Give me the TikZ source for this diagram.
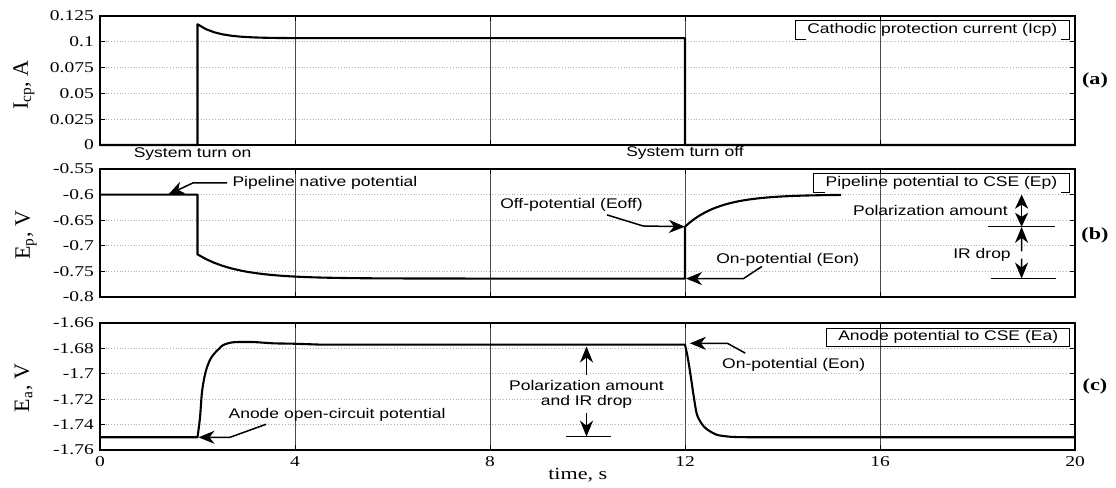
\documentclass[tikz,border=0pt]{standalone}
\usepackage{fontspec}
\setmainfont{Liberation Serif}
\newfontfamily\axisfont[FakeStretch=1.3]{Liberation Serif}
\newfontfamily\notefont[FakeStretch=1.25]{Liberation Sans}
\usetikzlibrary{arrows.meta}
\tikzstyle{axisframe} = [line width=0.8pt]
\tikzstyle{tickmark} = [line width=0.5pt]
\tikzstyle{hgrid} = [gray!60, line width=0.4pt, densely dotted]
\tikzstyle{vgrid} = [black!70, line width=0.45pt]
\tikzstyle{datacurve} = [line width=1.05pt, line join=round]
\tikzstyle{ticklab} = [font=\axisfont\fontsize{7.5}{8}\selectfont, inner sep=0pt]
\tikzstyle{axlab} = [font=\axisfont\fontsize{8.5}{10}\selectfont, inner sep=0pt]
\tikzstyle{ylab} = [font=\fontsize{11}{12}\selectfont, rotate=90, anchor=base, inner sep=0pt]
\tikzstyle{panellab} = [font=\axisfont\bfseries\fontsize{8.5}{10}\selectfont, inner sep=0pt]
\tikzstyle{note} = [font=\notefont\fontsize{7}{7.5}\selectfont, inner sep=0pt, align=center]
\tikzstyle{legendbox} = [note, inner xsep=5.75pt, inner ysep=0pt, minimum height=8.8pt]
\tikzstyle{arrow} = [line width=0.75pt, -{Stealth[length=8pt,width=6.5pt,inset=2.5pt]}]
\tikzstyle{dblarrow} = [line width=0.75pt, {Stealth[length=7pt,width=6.5pt,inset=2pt]}-{Stealth[length=7pt,width=6.5pt,inset=2pt]}]
\tikzstyle{levelbar} = [line width=0.6pt]

\begin{document}
\begin{tikzpicture}
	\useasboundingbox (0,0) rectangle (558pt,244pt);
	% (a)
	\begin{scope}[shift={(50pt,171.5pt)}, x=24.375pt, y=516pt]
		\foreach \v in {0.025,0.05,0.075,0.1} {
			\draw[hgrid] (0,\v) -- (20,\v);
			\draw[tickmark] (0,\v) -- ++(2.5pt,0);
			\draw[tickmark] (20,\v) -- ++(-2.5pt,0);
		}
		\foreach \t in {4,8,12,16} {
			\draw[vgrid] (\t,0) -- (\t,0.125);
			\draw[tickmark] (\t,0) -- ++(0,2.5pt);
			\draw[tickmark] (\t,0.125) -- ++(0,-2.5pt);
		}
		\foreach \v in {0,0.025,0.05,0.075,0.1,0.125}
			\node[ticklab, anchor=east] at ([xshift=-2.9pt]0,\v) {\v};
		\draw[datacurve] (0,0) -- (2,0) -- (2,0.117) -- plot[domain=2:12, samples=60] (\x,{0.1035+0.0135*exp(-(\x-2)/0.4)}) -- (12,0) -- (20,0);
		\draw[axisframe] (0,0) rectangle (20,0.125);
		\node[note] (turn on) at (1.9,-0.0084) {System turn on};
		\node[note] (turn off) at (12,-0.0078) {System turn off};
		\node[legendbox, anchor=north east] (leg cp) at ([yshift=-2.4pt]19.88,0.125) {Cathodic protection current (Icp)};
		\draw[line width=0.5pt] ([xshift=5.5pt]leg cp.south west) -- (leg cp.south west) -- (leg cp.north west) -| (leg cp.south east) -- ([xshift=-4pt]leg cp.south east);
		\node[ylab] (ylab cp) at (-1.48,0.0581) {I\textsubscript{cp}, A};
		\node[panellab] (tag a) at (20.41,0.0625) {(a)};
	\end{scope}
	% (b)
	\begin{scope}[shift={(50pt,300.3pt)}, x=24.375pt, y=256pt]
		\foreach \v in {-0.75,-0.7,-0.65,-0.6} {
			\draw[hgrid] (0,\v) -- (20,\v);
			\draw[tickmark] (0,\v) -- ++(2.5pt,0);
			\draw[tickmark] (20,\v) -- ++(-2.5pt,0);
		}
		\foreach \t in {4,8,12,16} {
			\draw[vgrid] (\t,-0.8) -- (\t,-0.55);
			\draw[tickmark] (\t,-0.8) -- ++(0,2.5pt);
			\draw[tickmark] (\t,-0.55) -- ++(0,-2.5pt);
		}
		\foreach \v in {-0.8,-0.75,-0.7,-0.65,-0.6,-0.55}
			\node[ticklab, anchor=east] at ([xshift=-2.9pt]0,\v) {\v};
		\draw[datacurve] (0,-0.6) -- (2,-0.6) -- (2,-0.7167) -- plot[domain=2:12, samples=60] (\x,{-0.764+0.0473*exp(-(\x-2)/0.8)}) -- (12,-0.6627) -- plot[domain=12:15.2, samples=40] (\x,{-0.6-0.0627*exp(-(\x-12)/0.7)});
		\draw[axisframe] (0,-0.8) rectangle (20,-0.55);
		\node[legendbox, anchor=north east] (leg ep) at ([yshift=-2.4pt]19.88,-0.55) {Pipeline potential to CSE (Ep)};
		\draw[line width=0.5pt] ([xshift=5.5pt]leg ep.south west) -- (leg ep.south west) -- (leg ep.north west) -| (leg ep.south east) -- ([xshift=-4pt]leg ep.south east);
		\node[note, anchor=west] (native) at (2.71,-0.577) {Pipeline native potential};
		\coordinate (native bend) at (1.91,-0.577);
		\coordinate (native tip) at (1.4,-0.6);
		\draw[arrow] ([xshift=-2.5pt]native.west) -- (native bend) -- (native tip);
		\node[note, anchor=east] (eoff) at (11.14,-0.6203) {Off-potential (Eoff)};
		\coordinate (eoff bend) at (11.14,-0.6613);
		\coordinate (eoff tip) at (12,-0.6627);
		\draw[arrow] ([xshift=-18pt,yshift=-1.5pt]eoff.south east) -- (eoff bend) -- (eoff tip);
		\node[note] (eon p) at (14.11,-0.7268) {On-potential (Eon)};
		\coordinate (eon p bend) at (13.2,-0.764);
		\coordinate (eon p tip) at (12.02,-0.764);
		\draw[arrow] ([xshift=23pt]eon p.south west) -- (eon p bend) -- (eon p tip);
		\coordinate (pol top) at (18.905,-0.6);
		\coordinate (pol bot) at (18.905,-0.663);
		\coordinate (ir bot) at (18.905,-0.764);
		\draw[dblarrow] (pol top) -- (pol bot);
		\draw[levelbar] (18.215,-0.663) -- (19.59,-0.663);
		\draw[levelbar] (18.27,-0.764) -- (19.62,-0.764);
		\node[note, anchor=east] (pol note) at (18.63,-0.632) {Polarization amount};
		\node[note, anchor=east] (ir note) at (18.69,-0.718) {IR drop};
		\draw[arrow] ([xshift=5.2pt,yshift=1.8pt]ir note.east) -- (pol bot);
		\draw[arrow] ([xshift=5.2pt,yshift=-1.8pt]ir note.east) -- (ir bot);
		\node[ylab] (ylab ep) at (-1.436,-0.6789) {E\textsubscript{p}, V};
		\node[panellab] (tag b) at (20.41,-0.68) {(b)};
	\end{scope}
	% (c)
	\begin{scope}[shift={(50pt,1136.6pt)}, x=24.375pt, y=635pt]
		\foreach \v in {-1.74,-1.72,-1.7,-1.68} {
			\draw[hgrid] (0,\v) -- (20,\v);
			\draw[tickmark] (0,\v) -- ++(2.5pt,0);
			\draw[tickmark] (20,\v) -- ++(-2.5pt,0);
		}
		\foreach \t in {4,8,12,16} {
			\draw[vgrid] (\t,-1.76) -- (\t,-1.66);
			\draw[tickmark] (\t,-1.76) -- ++(0,2.5pt);
			\draw[tickmark] (\t,-1.66) -- ++(0,-2.5pt);
		}
		\foreach \v in {-1.76,-1.74,-1.72,-1.7,-1.68,-1.66}
			\node[ticklab, anchor=east] at ([xshift=-2.9pt]0,\v) {\v};
		\foreach \t in {0,4,8,12,16,20}
			\node[ticklab, anchor=north] at ([yshift=-3pt]\t,-1.76) {\t};
		\node[axlab] (time) at ([yshift=-12.5pt]9.8,-1.76) {time, s};
		\draw[datacurve] (0,-1.75) -- (2,-1.75) -- plot[smooth, tension=0.5] coordinates {(2,-1.75) (2.05,-1.735) (2.09,-1.7151) (2.14,-1.703) (2.19,-1.6954) (2.27,-1.688) (2.36,-1.6834) (2.45,-1.68) (2.53,-1.6773) (2.73,-1.6752) (3.14,-1.675) (3.55,-1.676) (3.96,-1.6763) (4.5,-1.677)} -- (12,-1.677) -- plot[smooth, tension=0.5] coordinates {(12,-1.677) (12.06,-1.688) (12.12,-1.7025) (12.18,-1.718) (12.24,-1.7314) (12.32,-1.738) (12.4,-1.742) (12.5,-1.745) (12.65,-1.748) (12.85,-1.7493) (13.05,-1.7498) (13.5,-1.75)} -- (20,-1.75);
		\draw[axisframe] (0,-1.76) rectangle (20,-1.66);
		\node[legendbox, draw, line width=0.5pt, anchor=north east] (leg ea) at ([yshift=-2.5pt]19.9,-1.66) {Anode potential to CSE (Ea)};
		\node[note, anchor=west] (open) at (2.63,-1.7327) {Anode open-circuit potential};
		\coordinate (open bend) at (2.667,-1.75);
		\coordinate (open tip) at (2.02,-1.75);
		\draw[arrow] ([xshift=19pt,yshift=-1pt]open.south west) -- (open bend) -- (open tip);
		\node[note] (eon a) at (14.23,-1.6931) {On-potential (Eon)};
		\coordinate (eon a bend) at (12.87,-1.676);
		\coordinate (eon a tip) at (12.1,-1.676);
		\draw[arrow] ([xshift=11.7pt,yshift=2.5pt]eon a.north west) -- (eon a bend) -- (eon a tip);
		\node[note] (pol ir) at (9.98,-1.7161) {Polarization amount\\and IR drop};
		\coordinate (pol ir top) at (9.98,-1.6785);
		\coordinate (pol ir bot) at (9.98,-1.7495);
		\draw[arrow] ([yshift=2.5pt]pol ir.north) -- (pol ir top);
		\draw[arrow] ([yshift=-2pt]pol ir.south) -- (pol ir bot);
		\draw[levelbar] (9.56,-1.7495) -- (10.49,-1.7495);
		\node[ylab] (ylab ea) at (-1.456,-1.7112) {E\textsubscript{a}, V};
		\node[panellab] (tag c) at (20.41,-1.71) {(c)};
	\end{scope}
\end{tikzpicture}
\end{document}
